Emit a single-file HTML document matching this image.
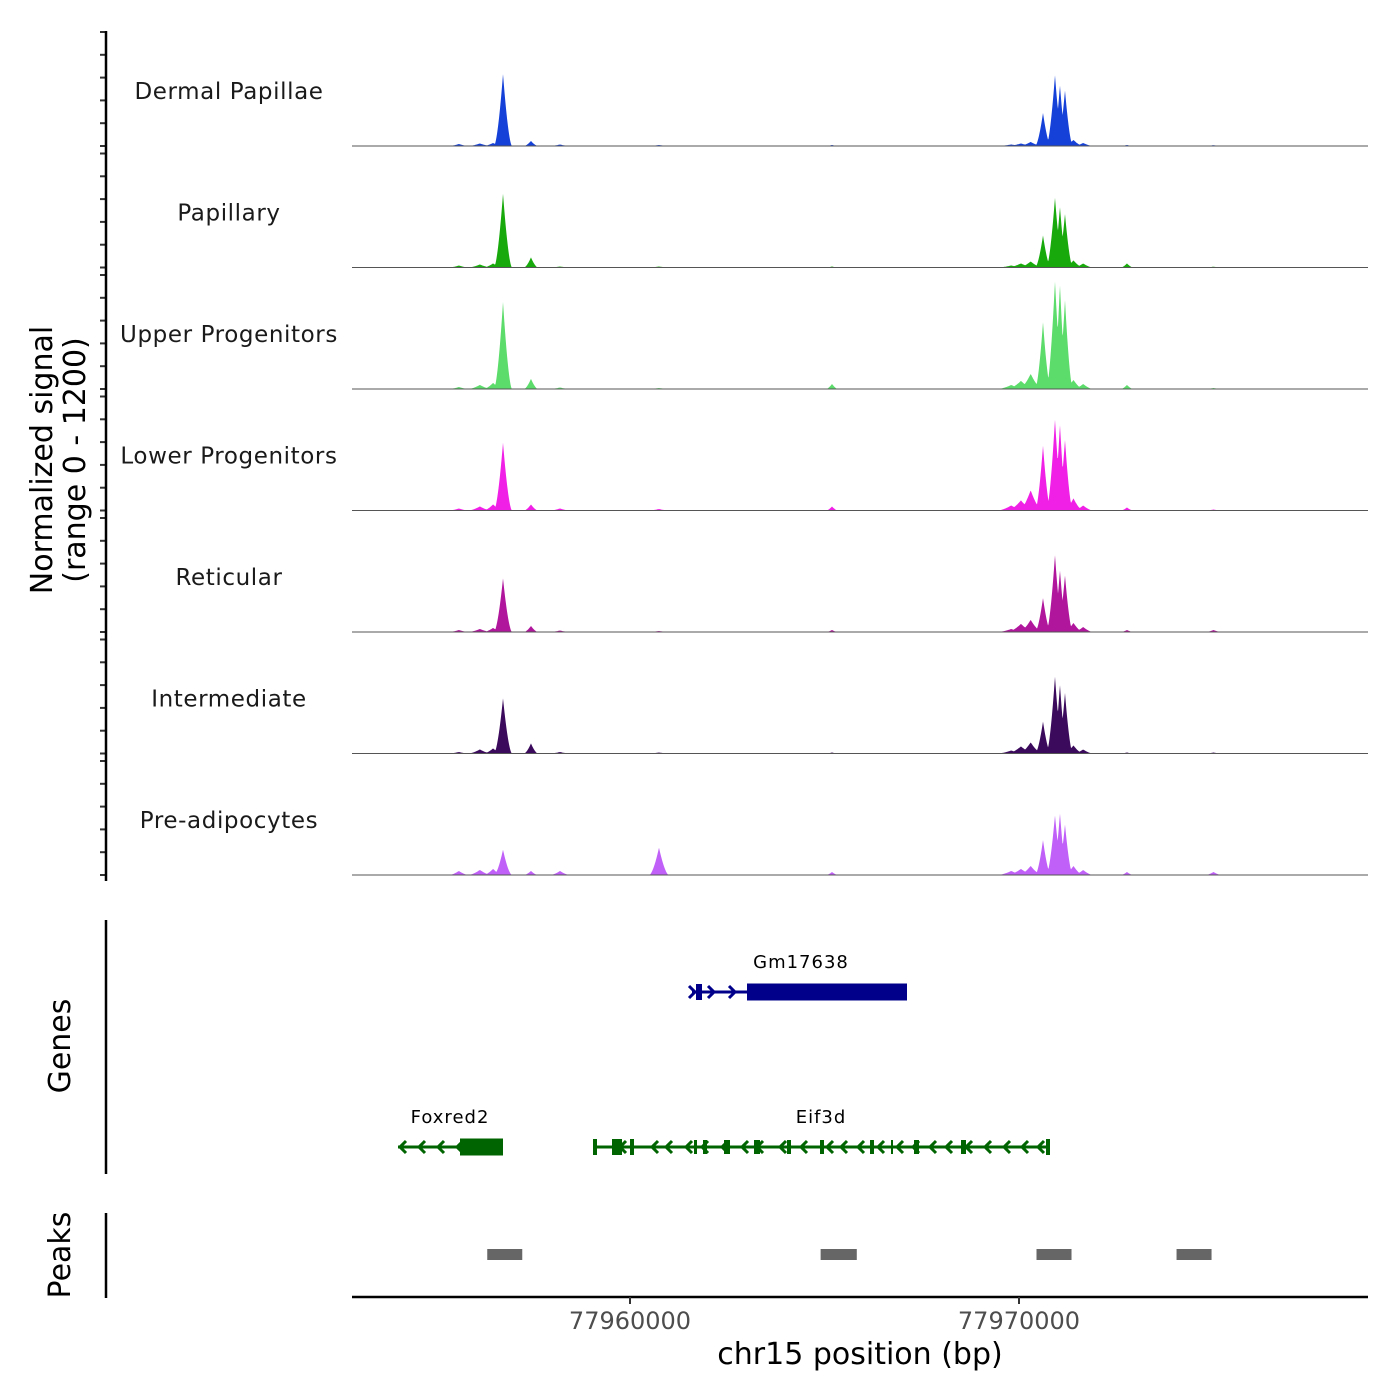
<!DOCTYPE html>
<html><head><meta charset="utf-8">
<style>
html,body{margin:0;padding:0;background:#fff;}
svg{display:block;font-family:"DejaVu Sans","Liberation Sans",sans-serif;}
</style></head>
<body>
<svg id="chart" width="1400" height="1400" viewBox="0 0 1400 1400" xmlns="http://www.w3.org/2000/svg"></svg>
<script>
// ---- data ----
const trackNames = ["Dermal Papillae","Papillary","Upper Progenitors","Lower Progenitors","Reticular","Intermediate","Pre-adipocytes"];
const trackColors = ["#1541d9","#18aa0c","#5cdc6a","#f020e6","#b0169c","#3b0a5c","#c060f8"];
const peakCenters = [77955600,77956140,77956480,77956735,77957454,77958200,77960745,77965193,77969800,77970050,77970300,77970617,77970925,77971053,77971182,77971400,77971650,77972776,77975000];
const peakWidths  = [250,300,250,230,180,250,250,150,350,350,300,200,220,190,200,250,250,160,200];
const dpHeights   = [20,25,30,711,50,15,10,10,15,25,40,326,700,600,550,60,30,10,8];
const papHeights  = [20,30,40,730,100,10,10,10,20,40,60,316,690,600,530,70,40,40,8];
const upHeights   = [20,40,60,860,100,15,10,50,40,80,150,660,1065,1030,880,90,50,40,10];
const lowHeights  = [20,40,60,670,60,20,15,40,50,100,200,640,900,850,700,120,50,30,10];
const retHeights  = [20,30,40,530,60,15,10,20,30,80,120,335,760,610,560,90,50,20,20];
const intHeights  = [15,40,50,545,100,15,10,10,30,70,110,315,760,680,600,80,40,10,10];
const preHeights  = [40,50,60,250,40,40,270,30,40,60,90,345,590,610,500,90,50,30,30];
const trackHeights = [dpHeights,papHeights,upHeights,lowHeights,retHeights,intHeights,preHeights];
const xTicks = [77960000,77970000];
const xTickLabels = ["77960000","77970000"];
const peakStarts = [77956330,77964900,77970450,77974050];
const peakEnds   = [77957230,77965830,77971350,77974950];
// ---- scales ----
const bpMin = 77952853, bpMax = 77978972, pxMin = 352, pxMax = 1368;
const X = bp => pxMin + (bp - bpMin) * (pxMax - pxMin) / (bpMax - bpMin);
const trackH = 121.5, yMax = 1200;
const base = i => 146 + i * trackH;
const Y = (i, v) => base(i) - v * trackH / yMax;
const NS = "http://www.w3.org/2000/svg";
const svg = document.getElementById("chart");
function mk(tag, attrs, parent){const e=document.createElementNS(NS,tag);for(const k in attrs)e.setAttribute(k,attrs[k]);(parent||svg).appendChild(e);return e;}
function txt(s, attrs){const e=mk("text",attrs);e.textContent=s;return e;}

// ---- coverage tracks ----
for (let i=0;i<trackNames.length;i++){
  const hs = trackHeights[i];
  const pts = [];
  for (let px=pxMin; px<=pxMax; px+=0.5){
    const bp = bpMin + (px-pxMin)*(bpMax-bpMin)/(pxMax-pxMin);
    let v=0;
    for (let k=0;k<peakCenters.length;k++){
      const d=Math.abs(bp-peakCenters[k])/peakWidths[k];
      if (d<1) v=Math.max(v,hs[k]*Math.pow(1-d,1.6));
    }
    pts.push(px.toFixed(1)+","+Y(i,v).toFixed(1));
  }
  const area = mk("polygon",{points:pxMin+","+base(i)+" "+pts.join(" ")+" "+pxMax+","+base(i),fill:trackColors[i]});
  
  
  const bl = mk("line",{x1:pxMin,x2:pxMax,y1:base(i),y2:base(i),stroke:"#555","stroke-width":1});
  
  
  const lab = txt(trackNames[i],{x:229,y:base(i)-47,"text-anchor":"middle","font-size":23,"letter-spacing":"0.6",fill:"#1a1a1a"});
  
  
  for (let t=0;t<6;t++){
    const yy = base(i) - t*22.8;
    const tk = mk("line",{x1:100,x2:106,y1:yy,y2:yy,stroke:"#333","stroke-width":2});
    
    
  }
}
const yax = mk("line",{x1:106,x2:106,y1:31,y2:881,stroke:"#000","stroke-width":2.5});


const yt1 = txt("Normalized signal",{x:0,y:0,transform:"translate(52,460) rotate(-90)","text-anchor":"middle","font-size":30});


const yt2 = txt("(range 0 - 1200)",{x:0,y:0,transform:"translate(85,460) rotate(-90)","text-anchor":"middle","font-size":30});



// ---- genes ----
const gAx = mk("line",{x1:106,x2:106,y1:920,y2:1174,stroke:"#000","stroke-width":2.5});


const gT = txt("Genes",{x:0,y:0,transform:"translate(70,1046) rotate(-90)","text-anchor":"middle","font-size":30});


function gene(name,color,y,x1,x2,exons,arrows,dir,lx){
  const g = mk("g",{});
  
  
  mk("line",{x1:x1,x2:x2,y1:y,y2:y,stroke:color,"stroke-width":3},g);
  exons.forEach(e=>mk("rect",{x:e[0],y:y-e[2]/2,width:e[1]-e[0],height:e[2],fill:color},g));
  arrows.forEach(a=>{const d=dir*6;mk("polyline",{points:(a-d)+","+(y-6)+" "+a+","+y+" "+(a-d)+","+(y+6),fill:"none",stroke:color,"stroke-width":3},g);});
  const t=document.createElementNS(NS,"text");t.setAttribute("x",lx);t.setAttribute("y",y-24);t.setAttribute("text-anchor","middle");t.setAttribute("font-size",18);t.setAttribute("letter-spacing","1");t.textContent=name;g.appendChild(t);
}
gene("Gm17638","#00008b",992,692,907,[[696,702,16],[747,907,17]],[695,714,735],1,801);
gene("Foxred2","#006400",1147,398,503,[[460,503,17]],[400,419,438,457],-1,450);
gene("Eif3d","#006400",1147,593,1050,[[593,597,16],[612,622,16],[630,634,16],[694,697,14],[703,707,14],[724,730,14],[754,760,14],[787,791,14],[820,824,14],[870,874,14],[891,893,14],[914,919,14],[961,966,14],[1046,1050,16]],[620,652,666,686,702,722,742,757,780,801,827,841,858,878,897,913,930,946,966,985,1004,1022,1038],-1,821);

// ---- peaks ----
const pAx = mk("line",{x1:106,x2:106,y1:1213,y2:1298,stroke:"#000","stroke-width":2.5});


const pT = txt("Peaks",{x:0,y:0,transform:"translate(70,1255) rotate(-90)","text-anchor":"middle","font-size":30});


for (let k=0;k<peakStarts.length;k++){
  const r = mk("rect",{x:X(peakStarts[k]),y:1249,width:X(peakEnds[k])-X(peakStarts[k]),height:11,fill:"#666"});
  
  
}

// ---- x axis ----
const xAx = mk("line",{x1:pxMin,x2:pxMax,y1:1297,y2:1297,stroke:"#000","stroke-width":2.5});


for (let k=0;k<xTicks.length;k++){
  const tk = mk("line",{x1:X(xTicks[k]),x2:X(xTicks[k]),y1:1297,y2:1304,stroke:"#333","stroke-width":2});
  
  
  const tl = txt(xTickLabels[k],{x:X(xTicks[k]),y:1329,"text-anchor":"middle","font-size":24,fill:"#4d4d4d"});
  
  
}
const xt = txt("chr15 position (bp)",{x:860,y:1364,"text-anchor":"middle","font-size":30});


</script>
</body></html>
